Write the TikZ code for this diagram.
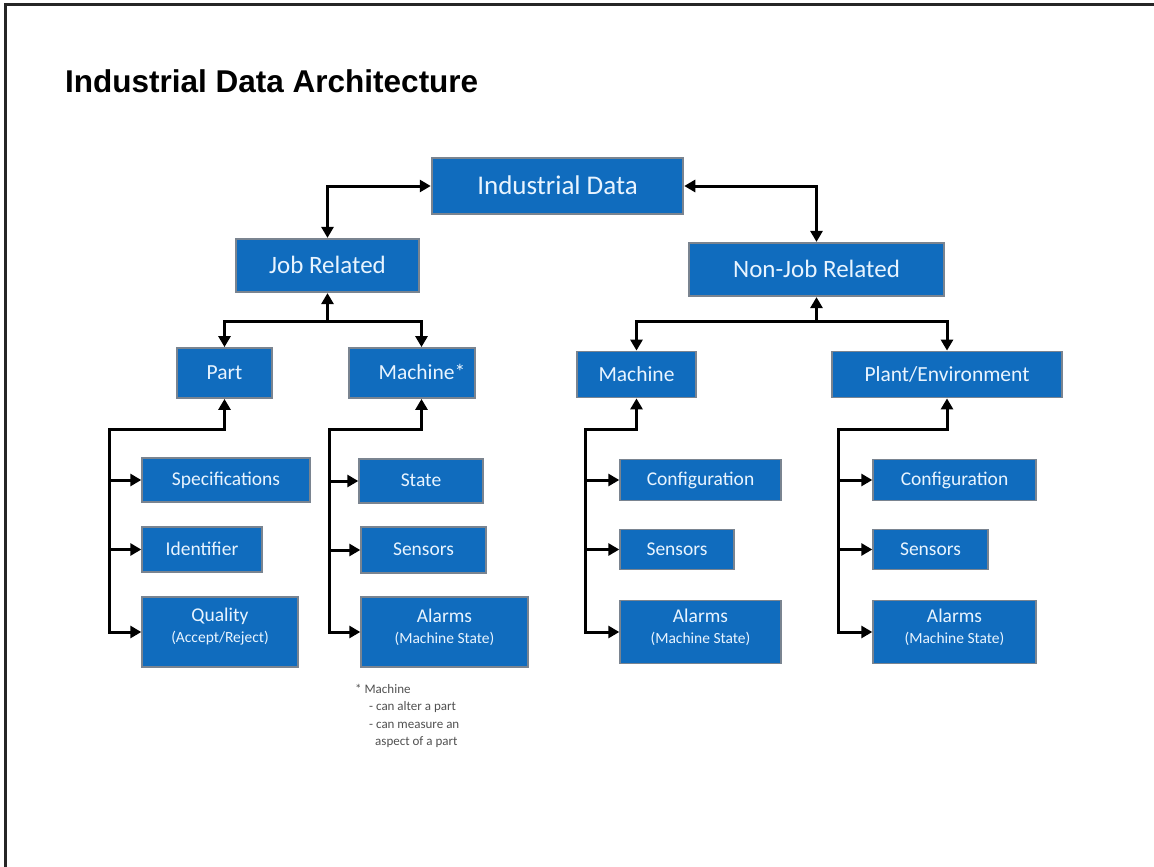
\documentclass[tikz,border=0pt]{standalone}
\usepackage{fontspec}
\setmainfont{Carlito}
\newfontfamily\titlefont{Liberation Sans}
\usetikzlibrary{arrows.meta}
\definecolor{boxblue}{RGB}{16,108,190}
\definecolor{boxtext}{RGB}{232,244,255}
\definecolor{boxedge}{RGB}{122,132,144}
\definecolor{notegray}{RGB}{80,80,80}
\tikzset{
  wh/.style 2 args={minimum width=#1, minimum height=#2},
  box/.style={fill=boxblue, draw=boxedge, text=boxtext, inner sep=0pt},
  lvlone/.style={box, line width=2.5pt, font=\fontsize{27}{32}\selectfont,
    text height=18.6pt, text depth=2.2pt},
  lvltwo/.style={box, line width=2.2pt, font=\fontsize{25}{30}\selectfont,
    text height=17.2pt, text depth=2pt},
  lvlthree/.style={box, line width=1.8pt, font=\fontsize{21.5}{26}\selectfont,
    text height=14.8pt, text depth=1.8pt},
  leaf/.style={box, line width=1.4pt, font=\fontsize{19.5}{24}\selectfont,
    text height=13.4pt, text depth=1.6pt},
  leaftext/.style={text=boxtext, align=center, inner sep=0pt,
    font=\fontsize{19.5}{21}\selectfont},
  conn/.style={line width=3pt, draw=black},
  tip/.tip={Triangle[length=11pt, width=12pt]},
  note/.style={text=notegray, align=left, inner sep=0pt,
    font=\fontsize{13}{17.5}\selectfont},
}
\newcommand\subtext{\fontsize{15.5}{17}\selectfont}
\begin{document}
\begin{tikzpicture}[x=1pt, y=-1pt]
\useasboundingbox (0,0) rectangle (1154,867);
% frame on top and left
\draw[line width=3pt, black!85] (1154,5) -- (5,5) -- (5,867);

\node[anchor=west, inner sep=0pt, font=\titlefont\bfseries\fontsize{31.5}{36}\selectfont] (title) at (65,81) {Industrial Data Architecture};

% upper levels
\node[lvlone, wh={251}{56}] (ind) at (557.5,186) {Industrial Data};
\node[lvltwo, wh={183}{53}] (job) at (327.5,265.5) {Job Related};
\node[lvltwo, wh={255}{53}] (nonjob) at (816.5,269.5) {Non-Job Related};

\node[lvlthree, wh={95}{50}] (part) at (224.5,373) {Part};
\node[lvlthree, wh={126}{50}] (mach) at (412,373) {\hspace*{20pt}Machine*};
\node[lvlthree, wh={119}{46}] (nmach) at (636.5,374.5) {Machine};
\node[lvlthree, wh={230}{46}] (plant) at (947,374.5) {Plant/Environment};

% part details
\node[leaf, wh={168}{44}] (spec) at (226,480) {Specifications};
\node[leaf, wh={120}{45}] (ident) at (202,549.5) {Identifier};
\node[leaf, wh={156}{70}] (qual) at (220,632) {};
\node[leaftext] (qualtxt) at ([yshift=5pt]qual.center) {Quality\\{\subtext(Accept/Reject)}};

% machine (job related) details
\node[leaf, wh={124}{44}] (state) at (421,481) {State};
\node[leaf, wh={125}{46}] (msens) at (423.5,550) {Sensors};
\node[leaf, wh={167}{70}] (malarm) at (444.5,632) {};
\node[leaftext] (malarmtxt) at ([yshift=5pt]malarm.center) {Alarms\\{\subtext(Machine State)}};

% machine (non-job related) details
\node[leaf, wh={161}{41}] (nconf) at (700.5,480) {Configuration};
\node[leaf, wh={114}{40}] (nsens) at (677,549.5) {Sensors};
\node[leaf, wh={161}{63}] (nalarm) at (700.5,632) {};
\node[leaftext] (nalarmtxt) at ([yshift=5pt]nalarm.center) {Alarms\\{\subtext(Machine State)}};

% plant/environment details
\node[leaf, wh={163}{41}] (pconf) at (954.5,480) {Configuration};
\node[leaf, wh={115}{40}] (psens) at (930.5,549.5) {Sensors};
\node[leaf, wh={163}{63}] (palarm) at (954.5,632) {};
\node[leaftext] (palarmtxt) at ([yshift=5pt]palarm.center) {Alarms\\{\subtext(Machine State)}};

% footnote
\node[note, anchor=north west] (fn) at (355,684)
  {* Machine\\
   \hspace*{14pt}- can alter a part\\
   \hspace*{14pt}- can measure an\\
   \hspace*{20pt}aspect of a part};

% connectors: top
\draw[conn, {tip}-{tip}] (ind.west) -| (job.north);
\draw[conn, {tip}-{tip}] (ind.east) -| (nonjob.north);

\coordinate (jbus) at (327.5,321);
\draw[conn, {tip}-] (job.south) -- (jbus);
\draw[conn, {tip}-{tip}] (part.north) |- (jbus) -| ([xshift=9.5pt]mach.north);

\coordinate (nbus) at (816.5,321.5);
\draw[conn, {tip}-] (nonjob.south) -- (nbus);
\draw[conn, {tip}-{tip}] (nmach.north) |- (nbus) -| (plant.north);

% connectors: details
\coordinate (pbus) at (109,429);
\draw[conn, {tip}-{tip}] (part.south) |- (pbus) |- (qual.west);
\draw[conn, -{tip}] (pbus |- spec.west) -- (spec.west);
\draw[conn, -{tip}] (pbus |- ident.west) -- (ident.west);

\coordinate (mbus) at (329,429);
\draw[conn, {tip}-{tip}] ([xshift=9.5pt]mach.south) |- (mbus) |- (malarm.west);
\draw[conn, -{tip}] (mbus |- state.west) -- (state.west);
\draw[conn, -{tip}] (mbus |- msens.west) -- (msens.west);

\coordinate (nmbus) at (585,429);
\draw[conn, {tip}-{tip}] (nmach.south) |- (nmbus) |- (nalarm.west);
\draw[conn, -{tip}] (nmbus |- nconf.west) -- (nconf.west);
\draw[conn, -{tip}] (nmbus |- nsens.west) -- (nsens.west);

\coordinate (plbus) at (838,429);
\draw[conn, {tip}-{tip}] (plant.south) |- (plbus) |- (palarm.west);
\draw[conn, -{tip}] (plbus |- pconf.west) -- (pconf.west);
\draw[conn, -{tip}] (plbus |- psens.west) -- (psens.west);
\end{tikzpicture}
\end{document}
